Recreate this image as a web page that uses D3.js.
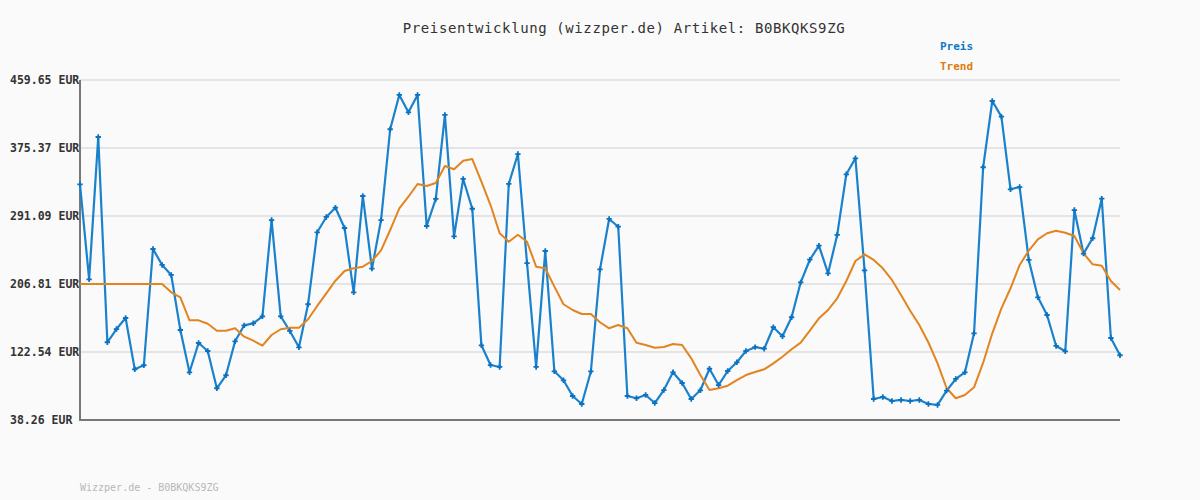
<!DOCTYPE html>
<html>
<head>
<meta charset="utf-8">
<script src="https://cdn.jsdelivr.net/npm/d3@7"></script>
<style>
html,body{margin:0;padding:0;background:#fafafa;}
svg{display:block;}
</style>
</head>
<body>
<svg id="chart" width="1200" height="500"></svg>
<script>
const titleText = "Preisentwicklung (wizzper.de) Artikel: B0BKQKS9ZG";
const footerText = "Wizzper.de - B0BKQKS9ZG";
const seriesNames = ["Preis", "Trend"];
const tickValues = [38.26, 122.54, 206.81, 291.09, 375.37, 459.65];
const tickLabels = ["38.26 EUR", "122.54 EUR", "206.81 EUR", "291.09 EUR", "375.37 EUR", "459.65 EUR"];

const price = [
 330.4, 212.6, 389.0, 134.6, 151.0, 164.7, 101.1, 106.1, 250.2, 230.4,
 218.0, 149.8, 97.4, 133.7, 123.8, 77.6, 93.7, 135.8, 155.6, 158.1,
 166.8, 286.1, 166.8, 148.6, 128.4, 181.7, 270.9, 289.9, 301.4, 276.2,
 196.5, 315.9, 225.8, 286.1, 398.6, 441.1, 419.6, 441.1, 278.7, 312.2,
 416.3, 265.9, 337.0, 300.1, 130.8, 106.4, 104.0, 330.8, 367.9, 232.8,
 104.0, 247.7, 98.6, 87.5, 68.0, 58.1, 98.4, 225.0, 287.4, 277.8,
 68.0, 65.2, 69.3, 59.3, 75.4, 97.4, 84.1, 64.3, 75.1, 101.8,
 81.6, 99.0, 109.8, 123.8, 128.5, 126.6, 153.2, 142.0, 165.6, 208.9,
 236.9, 254.3, 220.1, 267.6, 342.8, 362.6, 223.8, 64.3, 66.8, 61.8,
 63.1, 61.8, 63.1, 58.1, 56.9, 74.6, 89.1, 97.4, 145.7, 351.5,
 433.6, 414.2, 324.2, 327.0, 236.6, 190.3, 168.4, 130.0, 123.4, 298.5,
 244.4, 263.5, 312.5, 139.9, 118.5
];

const trend = [
 206.8, 206.8, 206.8, 206.8, 206.8, 206.8, 206.8, 206.8, 206.8, 206.8,
 196.5, 190.3, 161.8, 161.8, 157.6, 148.9, 148.9, 151.9, 141.5, 136.6,
 130.4, 143.6, 150.7, 152.7, 152.7, 163.1, 179.6, 195.3, 210.9, 222.9,
 226.3, 228.3, 235.3, 248.6, 273.7, 300.6, 315.0, 330.8, 328.3, 332.0,
 353.1, 349.0, 359.6, 361.7, 333.6, 304.7, 269.7, 259.2, 267.9, 259.2,
 228.3, 226.3, 203.5, 181.7, 174.6, 169.6, 169.6, 159.4, 151.9, 156.0,
 151.9, 134.1, 131.2, 127.9, 128.7, 132.5, 131.2, 114.7, 94.0, 75.4,
 77.6, 80.8, 87.8, 94.0, 97.8, 101.1, 108.5, 116.7, 125.9, 134.1,
 148.9, 164.3, 174.6, 189.1, 210.5, 235.3, 243.6, 236.6, 226.3, 211.8,
 193.2, 173.7, 156.0, 134.3, 108.5, 77.6, 65.2, 69.3, 78.8, 109.3,
 145.7, 176.7, 201.5, 230.4, 248.1, 262.2, 269.7, 272.9, 270.4, 266.3,
 244.9, 231.2, 229.5, 210.5, 199.4
];

const svg = d3.select("#chart");
const W = 1200, H = 500;
const mLeft = 80, mRight = 1120, mTop = 80, mBottom = 420;

const x = d3.scaleLinear().domain([0, price.length - 1]).range([mLeft, mRight]);
const y = d3.scaleLinear().domain([38.26, 459.65]).range([mBottom, mTop]);

svg.append("rect").attr("width", W).attr("height", H).attr("fill", "#fafafa");

// title
svg.append("text")
  .attr("x", 624).attr("y", 33)
  .attr("text-anchor", "middle")
  .attr("font-family", "DejaVu Sans Mono, monospace")
  .attr("font-size", 14)
  .attr("letter-spacing", "0.6")
  .attr("fill", "#333")
  .text(titleText);

// gridlines
svg.append("g").selectAll("line").data(tickValues).join("line")
  .attr("x1", mLeft).attr("x2", mRight)
  .attr("y1", d => y(d)).attr("y2", d => y(d))
  .attr("stroke", "#e4e4e4").attr("stroke-width", 2);

// y axis labels via d3 axis (left-aligned at x=10)
const yAxis = d3.axisLeft(y).tickValues(tickValues)
  .tickFormat((d, i) => tickLabels[i]).tickSize(0).tickPadding(0);
const gy = svg.append("g").attr("transform", `translate(${mLeft},0)`).call(yAxis);
gy.select(".domain").remove();
gy.selectAll("text")
  .attr("x", 10 - mLeft)
  .attr("text-anchor", "start")
  .attr("font-family", "DejaVu Sans Mono, monospace")
  .attr("font-size", 11.5)
  .attr("font-weight", "bold")
  .attr("fill", "#333");

// axis lines
svg.append("line").attr("x1", mLeft).attr("x2", mLeft).attr("y1", mTop).attr("y2", mBottom + 1)
  .attr("stroke", "#777").attr("stroke-width", 2);
svg.append("line").attr("x1", mLeft - 1).attr("x2", mRight).attr("y1", mBottom).attr("y2", mBottom)
  .attr("stroke", "#777").attr("stroke-width", 2);

const line = d3.line().x((d, i) => x(i)).y(d => y(d));

// price line
svg.append("path").datum(price)
  .attr("d", line).attr("fill", "none")
  .attr("stroke", "#1a82cc").attr("stroke-width", 2.2)
  .attr("stroke-linejoin", "round");

// trend line
svg.append("path").datum(trend)
  .attr("d", line).attr("fill", "none")
  .attr("stroke", "#e2841f").attr("stroke-width", 2)
  .attr("stroke-linejoin", "round");

// markers
const sym = d3.symbol().type(d3.symbolCross).size(16);
svg.append("g").selectAll("path").data(price).join("path")
  .attr("d", sym)
  .attr("transform", (d, i) => `translate(${x(i)},${y(d)})`)
  .attr("fill", "#0a72c0");

// legend
const legendColors = ["#0a78c8", "#dd7a10"];
svg.append("g").selectAll("text").data(seriesNames).join("text")
  .attr("x", 940).attr("y", (d, i) => 50 + i * 20)
  .attr("font-family", "DejaVu Sans Mono, monospace")
  .attr("font-size", 11)
  .attr("font-weight", "bold")
  .attr("fill", (d, i) => legendColors[i])
  .text(d => d);

// footer
svg.append("text")
  .attr("x", 80).attr("y", 491)
  .attr("font-family", "DejaVu Sans Mono, monospace")
  .attr("font-size", 10)
  .attr("fill", "#b8b8b8")
  .text(footerText);
</script>
</body>
</html>
